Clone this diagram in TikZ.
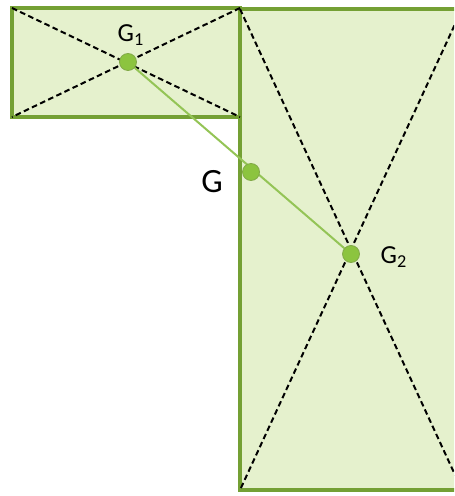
\documentclass[tikz,border=0pt]{standalone}
\usepackage{fontspec}
\setmainfont{Carlito}
\definecolor{vertfond}{HTML}{E5F1CD}
\definecolor{vertbord}{HTML}{74A034}
\definecolor{vertpoint}{HTML}{8CC43F}
\definecolor{vertsegment}{HTML}{94C456}

\begin{document}
\begin{tikzpicture}[x=0.5pt,y=-0.5pt,
        plaque/.style={draw=vertbord,fill=vertfond,line width=1.6pt},
        diagonale/.style={dash pattern=on 2.8pt off 1.7pt,line width=1pt,black},
        centre/.style={circle,fill=vertpoint,draw=vertbord!90,line width=0.4pt,inner sep=0pt,minimum size=8.5pt},
        nom/.style={font=\fontsize{13}{15}\selectfont}]
        % Cadre de l'image : 454 x 496 pixels
        \useasboundingbox (0,0) rectangle (454,496);
        \clip (0,0) rectangle (454,496);
        
        % Les coins des deux rectangles
        \coordinate (A1) at (12,8);
        \coordinate (B1) at (240,8);
        \coordinate (C1) at (240,117);
        \coordinate (D1) at (12,117);
        \coordinate (A2) at (240,9);
        \coordinate (B2) at (462,9);
        \coordinate (C2) at (462,490);
        \coordinate (D2) at (240,490);
        
        % Le petit rectangle puis le grand
        \draw[plaque] (A1) rectangle (C1);
        \draw[plaque] (A2) rectangle (C2);
        
        % Les diagonales en pointillés
        \draw[diagonale] (A1) -- (C1) (B1) -- (D1);
        \draw[diagonale] (A2) -- (C2) (B2) -- (D2);
        
        % Les centres de gravité G1, G2 et G
        \node[centre] (G1) at (128,62) {};
        \node[centre] (G2) at (351,254) {};
        \draw[vertsegment,line width=1pt] (G1) -- (G2);
        \node[centre] (G) at (251,172) {};
        
        % Les noms des points
        \node[nom] (nG1) at (131,35) {G\textsubscript{1}};
        \node[nom] (nG2) at (394,257) {G\textsubscript{2}};
        \node[nom,font=\fontsize{17}{19}\selectfont] (nG) at (212,182) {G};
\end{tikzpicture}
\end{document}
